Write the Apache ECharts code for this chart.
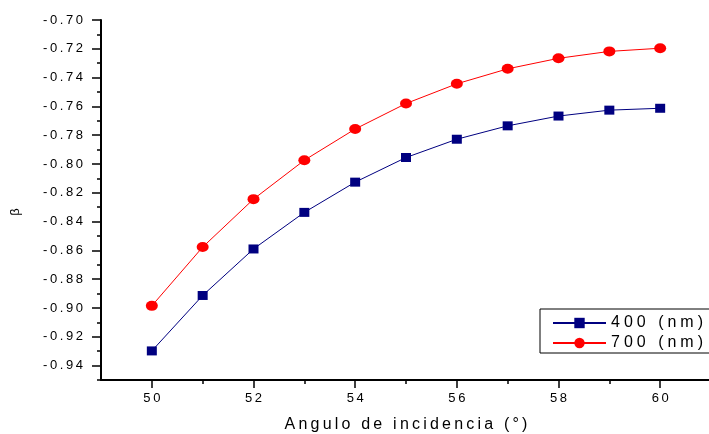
<!DOCTYPE html>
<html>
<head>
<meta charset="utf-8">
<script src="https://cdn.jsdelivr.net/npm/echarts@6/dist/echarts.min.js"></script>
<style>html,body{margin:0;padding:0;background:#fff}#c{width:709px;height:434px}</style>
</head>
<body>
<div id="c"></div>
<script>
var angles = [50, 51, 52, 53, 54, 55, 56, 57, 58, 59, 60];
var beta400 = [-0.9298, -0.8913, -0.8590, -0.8336, -0.8126, -0.7955, -0.7828, -0.7735, -0.7667, -0.7626, -0.7613];
var beta700 = [-0.8985, -0.8577, -0.8244, -0.7974, -0.7757, -0.7580, -0.7443, -0.7339, -0.7266, -0.7218, -0.7196];
var xMajorTicks = [50, 52, 54, 56, 58, 60];
var xMinorTicks = [51, 53, 55, 57, 59];
var yMajorTicks = [-0.94, -0.92, -0.90, -0.88, -0.86, -0.84, -0.82, -0.80, -0.78, -0.76, -0.74, -0.72, -0.70];
var yMinorTicks = [-0.95, -0.93, -0.91, -0.89, -0.87, -0.85, -0.83, -0.81, -0.79, -0.77, -0.75, -0.73, -0.71];
var seriesNames = ['400 (nm)', '700 (nm)'];
var xTitle = 'Angulo de incidencia (°)';
var yTitle = 'β';

var FONT = '"Liberation Sans", Arial, sans-serif';
function spaced(s, sp) { return String(s).split('').join(sp); }

var chart = echarts.init(document.getElementById('c'), null, {renderer: 'canvas'});
var option = {
  animation: false,
  backgroundColor: '#ffffff',
  grid: {left: 101, top: 20, width: 610, height: 360, containLabel: false, outerBoundsMode: 'none'},
  legend: {
    orient: 'vertical',
    left: 540, top: 309,
    padding: [6, 30, 2, 12],
    itemWidth: 53, itemHeight: 13,
    itemGap: 4,
    borderColor: '#000', borderWidth: 1,
    backgroundColor: '#fff',
    textStyle: {fontFamily: FONT, fontSize: 16, color: '#000', lineHeight: 16},
    formatter: function (n) { return spaced(n, '\u2005'); },
    data: seriesNames
  },
  xAxis: [{
    type: 'value', min: 49, max: 61,
    name: spaced(xTitle, '\u2009'), nameLocation: 'middle', nameGap: 37,
    nameTextStyle: {fontFamily: FONT, fontSize: 16, color: '#000'},
    axisLine: {onZero: false, lineStyle: {color: '#000', width: 2}},
    axisTick: {show: true, inside: false, length: 8, customValues: xMajorTicks, lineStyle: {color: '#000', width: 1.5}},
    axisLabel: {customValues: xMajorTicks, margin: 12, fontFamily: FONT, fontSize: 13, color: '#000',
      formatter: function (v) { return spaced(v, '\u2009'); }},
    splitLine: {show: false}
  }, {
    type: 'value', min: 49, max: 61, position: 'bottom',
    axisLine: {show: false, onZero: false},
    axisTick: {show: true, length: 4, customValues: xMinorTicks, lineStyle: {color: '#000', width: 1.5}},
    axisLabel: {show: false},
    splitLine: {show: false}
  }],
  yAxis: [{
    type: 'value', min: -0.95, max: -0.70,
    name: yTitle, nameLocation: 'middle', nameGap: 79, nameRotate: 90,
    nameTextStyle: {fontFamily: FONT, fontSize: 13, color: '#000', padding: [0, 24, 0, 0]},
    axisLine: {onZero: false, lineStyle: {color: '#000', width: 2}},
    axisTick: {show: true, length: 9, customValues: yMajorTicks, lineStyle: {color: '#000', width: 1.5}},
    axisLabel: {customValues: yMajorTicks, margin: 18, fontFamily: FONT, fontSize: 13, color: '#000',
      formatter: function (v) { return spaced(v.toFixed(2), '\u2009'); }},
    splitLine: {show: false}
  }, {
    type: 'value', min: -0.95, max: -0.70, position: 'left',
    axisLine: {show: false, onZero: false},
    axisTick: {show: true, length: 4, customValues: yMinorTicks, lineStyle: {color: '#000', width: 1.5}},
    axisLabel: {show: false},
    splitLine: {show: false}
  }],
  series: [{
    name: seriesNames[0], type: 'line',
    data: angles.map(function (a, i) { return [a, beta400[i]]; }),
    symbol: 'rect', symbolSize: [10, 9],
    lineStyle: {color: '#000080', width: 1},
    itemStyle: {color: '#000080'}
  }, {
    name: seriesNames[1], type: 'line',
    data: angles.map(function (a, i) { return [a, beta700[i]]; }),
    symbol: 'circle', symbolSize: [12, 10],
    lineStyle: {color: '#ff0000', width: 1},
    itemStyle: {color: '#ff0000'}
  }]
};
chart.setOption(option);
</script>
</body>
</html>
